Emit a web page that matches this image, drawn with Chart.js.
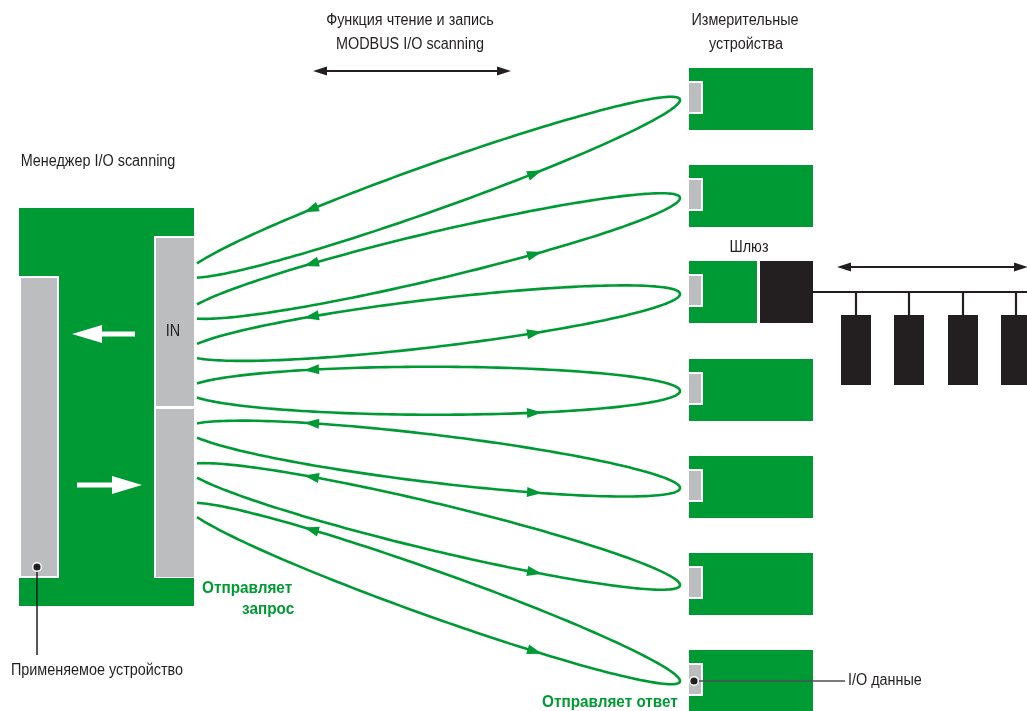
<!DOCTYPE html>
<html><head><meta charset="utf-8">
<script src="https://cdn.jsdelivr.net/npm/chart.js@4/dist/chart.umd.min.js"></script>
<style>html,body{margin:0;padding:0;background:#fff}#wrap{width:1027px;height:711px;position:relative}</style>
</head><body><div id="wrap"><canvas id="c"></canvas></div>
<script>
// ---- diagram data ----
const deviceTops = [68, 165, 261, 359, 456, 553, 650];      // measuring devices
const loopLeftY  = [270.5, 311.5, 351, 390.5, 430.5, 470.5, 510]; // loop ends at manager
const loopTipY   = [100, 198, 294, 391, 488, 585, 681];     // loop tips at devices
const busDeviceX = [841, 894, 948, 1001];                   // field bus slaves
const gatewayIndex = 2;
const labels = {
  func1: 'Функция чтение и запись', func2: 'MODBUS I/O scanning',
  meas1: 'Измерительные', meas2: 'устройства',
  manager: 'Менеджер I/O scanning', gateway: 'Шлюз', inLbl: 'IN',
  req1: 'Отправляет', req2: 'запрос', resp: 'Отправляет ответ',
  app: 'Применяемое устройство', io: 'I/O данные'
};
const GREEN = '#009a34', GRAY = '#bcbdbf', BLACK = '#231f20', TXT = '#231f20';
const FONT = '"Liberation Sans",Arial,sans-serif';
const COND = 0.9; // horizontal condensation to imitate a condensed face

const diagram = {
  id: 'diagram',
  afterDatasetsDraw(chart) {
    const ctx = chart.ctx, xs = chart.scales.x, ys = chart.scales.y;
    const X = v => xs.getPixelForValue(v), Y = v => ys.getPixelForValue(v);
    const rect = (x1, y1, x2, y2, fill, stroke, lw) => {
      ctx.beginPath(); ctx.rect(X(x1), Y(y1), X(x2) - X(x1), Y(y2) - Y(y1));
      ctx.fillStyle = fill; ctx.fill();
      if (stroke) { ctx.lineWidth = lw || 2; ctx.strokeStyle = stroke; ctx.stroke(); }
    };
    const line = (x1, y1, x2, y2, col, lw) => {
      ctx.beginPath(); ctx.moveTo(X(x1), Y(y1)); ctx.lineTo(X(x2), Y(y2));
      ctx.strokeStyle = col; ctx.lineWidth = lw; ctx.stroke();
    };
    const head = (tx, ty, dx, dy, len, wid, col) => {
      const n = Math.hypot(dx, dy); dx /= n; dy /= n;
      const bx = tx - dx * len, by = ty - dy * len;
      ctx.beginPath(); ctx.moveTo(X(tx), Y(ty));
      ctx.lineTo(X(bx - dy * wid / 2), Y(by + dx * wid / 2));
      ctx.lineTo(X(bx + dy * wid / 2), Y(by - dx * wid / 2));
      ctx.closePath(); ctx.fillStyle = col; ctx.fill();
    };
    const text = (s, x, y, font, col, align) => {
      ctx.save();
      ctx.font = font; ctx.fillStyle = col; ctx.textAlign = align || 'center';
      ctx.textBaseline = 'middle';
      ctx.translate(X(x), Y(y)); ctx.scale(COND, 1);
      ctx.fillText(s, 0, 0);
      ctx.restore();
    };
    const dot = (x, y) => {
      ctx.beginPath(); ctx.arc(X(x), Y(y), 5, 0, 2 * Math.PI); ctx.fillStyle = '#fff'; ctx.fill();
      ctx.beginPath(); ctx.arc(X(x), Y(y), 3.6, 0, 2 * Math.PI); ctx.fillStyle = TXT; ctx.fill();
    };

    // ---- manager block ----
    rect(19, 208, 194, 606, GREEN);
    rect(20, 277, 58, 577, GRAY, '#ffffff', 2);
    rect(155, 237, 195, 407, GRAY, '#ffffff', 2);
    rect(155, 408, 195, 578, GRAY, '#ffffff', 2);
    rect(19, 578, 194, 606, GREEN);
    // white arrows
    line(98, 334, 135, 334, '#fff', 5); head(72, 334, -1, 0, 30, 18, '#fff');
    line(77, 485, 114, 485, '#fff', 5); head(142, 485, 1, 0, 30, 18, '#fff');
    text(labels.inLbl, 173, 332, '16px ' + FONT, TXT);
    // app device pointer
    line(37, 567, 37, 655, TXT, 1.5);
    dot(37, 567);

    // ---- devices ----
    deviceTops.forEach((t, i) => {
      if (i === gatewayIndex) {
        rect(689, t, 757, t + 62, GREEN);
        rect(760, t, 813, t + 62, BLACK);
      } else rect(689, t, 813, t + 62, GREEN);
      rect(688, t + 14, 702, t + 45, GRAY, '#ffffff', 2);
    });
    // gateway bus
    const gt = deviceTops[gatewayIndex];
    line(813, gt + 31, 1027, gt + 31, BLACK, 2.2);
    busDeviceX.forEach(x => {
      line(x + 15, gt + 31, x + 15, gt + 54, BLACK, 2.2);
      rect(x, gt + 54, x + 30, gt + 124, BLACK);
    });
    line(848, 267, 1017, 267, BLACK, 2); head(837, 267, -1, 0, 14, 9, BLACK); head(1028, 267, 1, 0, 14, 9, BLACK);
    text(labels.gateway, 749, 248, '16px ' + FONT, TXT);

    // ---- loops ----
    const xL = 186, xR = 680, xc = (xL + xR) / 2, a = (xR - xL) / 2, b = 24, xCut = 197;
    loopLeftY.forEach((ly, i) => {
      const ty = loopTipY[i];
      const slope = (ty - ly) / (xR - xCut);
      const yv = ly - slope * (xCut - xL);
      const c = x => yv + (ty - yv) * (x - xL) / (xR - xL);
      const tm = Math.acos((xCut - xc) / a);
      const pt = t => { const x = xc + a * Math.cos(t); return [x, c(x) - b * Math.sin(t)]; };
      ctx.beginPath();
      const N = 200;
      for (let k = 0; k <= N; k++) {
        const t = tm - (2 * tm) * k / N;
        const [x, y] = pt(t);
        if (k === 0) ctx.moveTo(X(x), Y(y)); else ctx.lineTo(X(x), Y(y));
      }
      ctx.strokeStyle = GREEN; ctx.lineWidth = 2.6; ctx.lineJoin = 'round'; ctx.stroke();
      // arrow on upper branch pointing left (toward manager)
      const tu = Math.acos((304 - xc) / a);
      const [ux, uy] = pt(tu), [ux2, uy2] = pt(tu - 0.01);
      head(ux, uy, ux - ux2, uy - uy2, 15, 10, GREEN);
      // arrow on lower branch pointing right (toward device)
      const tl = -Math.acos((542 - xc) / a);
      const [lx, ly2] = pt(tl), [lx2, ly3] = pt(tl - 0.01);
      head(lx, ly2, lx - lx2, ly2 - ly3, 15, 10, GREEN);
    });

    // ---- I/O data pointer ----
    const lt = deviceTops[deviceTops.length - 1];
    line(694, lt + 31, 845, lt + 31, '#4d4d4f', 1.6);
    dot(694, lt + 31);
    text(labels.io, 848, 681, '16px ' + FONT, TXT, 'left');

    // ---- top labels & arrow ----
    text(labels.func1, 410, 21, '16px ' + FONT, TXT);
    text(labels.func2, 410, 45, '16px ' + FONT, TXT);
    line(325, 71, 499, 71, BLACK, 2.2); head(313, 71, -1, 0, 14, 9, BLACK); head(511, 71, 1, 0, 14, 9, BLACK);
    text(labels.meas1, 745, 21, '16px ' + FONT, TXT);
    text(labels.meas2, 746, 45, '16px ' + FONT, TXT);
    text(labels.manager, 98, 162, '16px ' + FONT, TXT);
    text(labels.app, 97, 671, '16px ' + FONT, TXT);
    text(labels.req1, 202, 588, 'bold 17px ' + FONT, GREEN, 'left');
    text(labels.req2, 242, 609, 'bold 17px ' + FONT, GREEN, 'left');
    text(labels.resp, 542, 702, 'bold 17px ' + FONT, GREEN, 'left');
  }
};

new Chart(document.getElementById('c'), {
  type: 'scatter',
  data: { datasets: [{ data: [], pointRadius: 0 }] },
  options: {
    responsive: true, maintainAspectRatio: false, animation: false,
    layout: { padding: 0 },
    plugins: { legend: { display: false }, tooltip: { enabled: false } },
    scales: {
      x: { type: 'linear', min: 0, max: 1027, display: false },
      y: { type: 'linear', min: 0, max: 711, reverse: true, display: false }
    }
  },
  plugins: [diagram]
});
</script></body></html>
